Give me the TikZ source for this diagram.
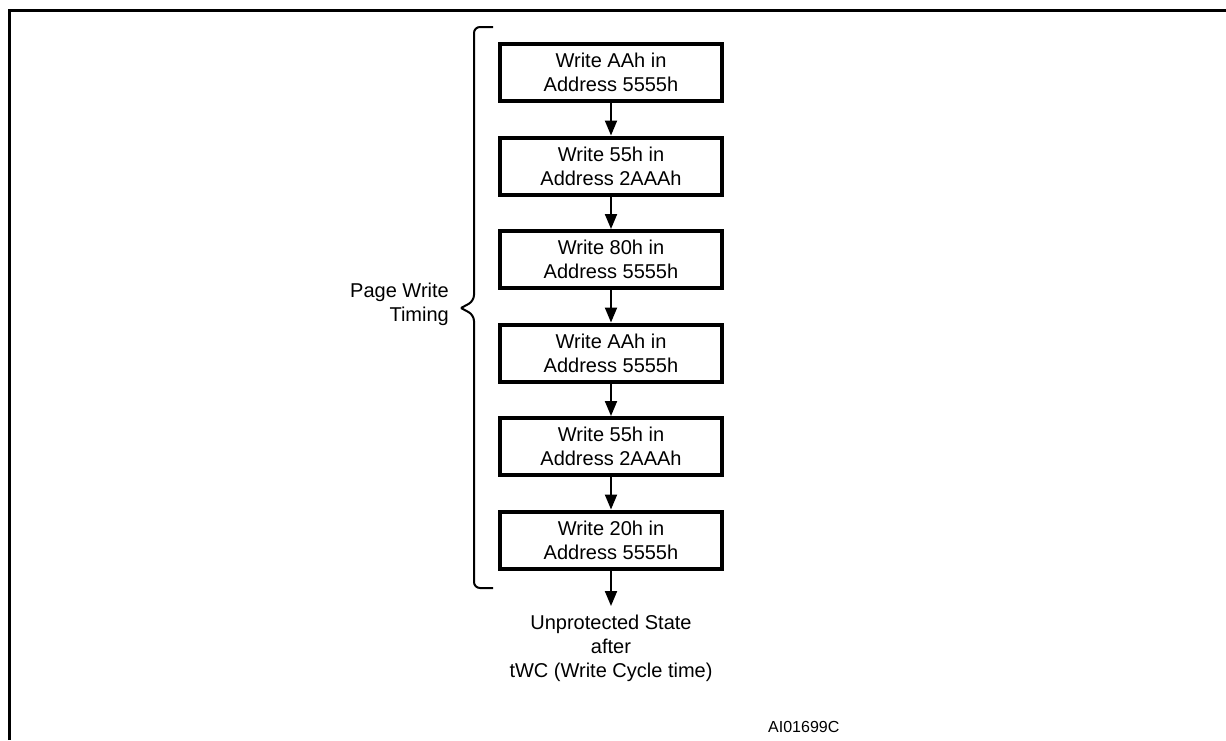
\documentclass[tikz,border=0pt]{standalone}
\usepackage{fontspec}
\setmainfont{Liberation Sans}
\usetikzlibrary{arrows.meta}
\begin{document}
\begin{tikzpicture}[x=1pt,y=-1pt,
  stepbox/.style={draw=black,line width=4pt,minimum width=222pt,minimum height=57pt,inner sep=0pt,align=center,font=\fontsize{20}{24}\selectfont},
  flow/.style={line width=2pt,-{Triangle[length=15pt,width=12pt]}},
  lbl/.style={font=\fontsize{20}{24}\selectfont,inner sep=0pt}]
\useasboundingbox (0,0) rectangle (1226,740);
\draw[line width=2.5pt] (9.5,740) -- (9.5,10.5) -- (1226,10.5);
\node[stepbox] (b1) at (611,72.5) {Write AAh in\\Address 5555h};
\node[stepbox] (b2) at (611,166) {Write 55h in\\Address 2AAAh};
\node[stepbox] (b3) at (611,259.5) {Write 80h in\\Address 5555h};
\node[stepbox] (b4) at (611,353) {Write AAh in\\Address 5555h};
\node[stepbox] (b5) at (611,446.5) {Write 55h in\\Address 2AAAh};
\node[stepbox] (b6) at (611,540) {Write 20h in\\Address 5555h};
\node[lbl,align=center] (end) at (611,648) {Unprotected State\\after\\tWC (Write Cycle time)};
\coordinate (tip) at (611,606);
\draw[flow] (b1) -- (b2);
\draw[flow] (b2) -- (b3);
\draw[flow] (b3) -- (b4);
\draw[flow] (b4) -- (b5);
\draw[flow] (b5) -- (b6);
\draw[flow] (b6.south) -- (tip);
\draw[line width=2pt,rounded corners=6pt] (493,27) -- (474,27) -- (474,301) -- (461,308);
\draw[line width=2pt,rounded corners=6pt] (461,308) -- (474,315) -- (474,588) -- (493,588);
\node[lbl,align=right,anchor=east] (pw) at (449,304) {Page Write\\Timing};
\node[font=\fontsize{16}{19}\selectfont,inner sep=0pt,anchor=west] (id) at (768,727) {AI01699C};
\end{tikzpicture}
\end{document}
